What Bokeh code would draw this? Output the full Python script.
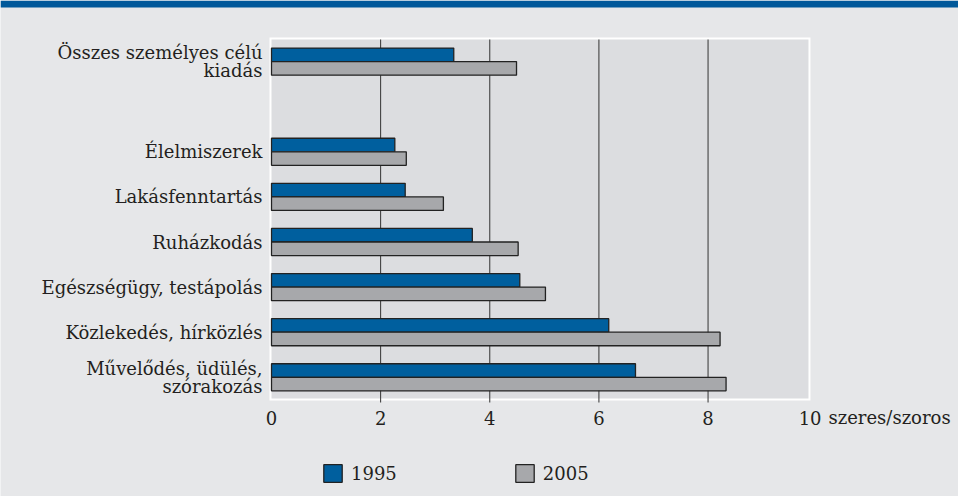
from bokeh.plotting import figure
from bokeh.models import Range1d, Legend, LegendItem, ColumnDataSource, BoxAnnotation
from bokeh.core.properties import value
from bokeh.embed import file_html
from bokeh.resources import INLINE

categories = ["Összes személyes célú\nkiadás", "Élelmiszerek", "Lakásfenntartás", "Ruházkodás",
              "Egészségügy, testápolás", "Közlekedés, hírközlés", "Művelődés, üdülés,\nszórakozás"]
values_1995 = [3.34, 2.26, 2.45, 3.68, 4.55, 6.18, 6.67]
values_2005 = [4.49, 2.47, 3.15, 4.52, 5.02, 8.22, 8.33]
series_names = ["1995", "2005"]
x_tick_values = [0, 2, 4, 6, 8]
x_tick_labels = ["0", "2", "4", "6", "8"]
x_last_tick = "10"
x_unit = "szeres/szoros"
grid_values = [2, 4, 6, 8]

# slot positions (bottom = 0); one empty slot between the total and the items
slots = [7, 5, 4, 3, 2, 1, 0]

FONT = "DejaVu Serif"
FS = "18px"
TXT = "#231f20"
PAGE_BG = "#e6e7e9"
PLOT_BG = "#dcdde0"
STRIPE = "#00589a"
BLUE = "#005f9e"
GRAY = "#a7a8ab"
EDGE = "#222222"
BAR_H = 0.3

W, H = 958, 496
X0_PX = 271            # pixel column of value 0
PXX = 54.57            # px per x unit
PXY = 45.1             # px per y unit
Y_LO, Y_HI = -0.47, 7.49   # shaded area, in slot units
X_END = 9.84
YLO_PX = 398           # pixel row of the shaded area's bottom


def px_x(d):           # pixel distance -> x units
    return d / PXX


def px_y(d):
    return d / PXY


x_start = -px_x(X0_PX)
x_end = px_x(W - X0_PX)
y_start = Y_LO - px_y(H - YLO_PX)
y_end = Y_LO + px_y(YLO_PX)

p = figure(width=W, height=H, x_range=Range1d(x_start, x_end), y_range=Range1d(y_start, y_end),
           output_backend="svg", toolbar_location=None, min_border=0,
           x_axis_location=None, y_axis_location=None)
p.background_fill_color = PAGE_BG
p.border_fill_color = PAGE_BG
p.outline_line_color = None
p.grid.grid_line_color = None

# top stripe
p.add_layout(BoxAnnotation(bottom=y_end - px_y(7), fill_color=STRIPE, fill_alpha=1,
                           line_color=None, level="image"))
# white frame + shaded area
p.add_layout(BoxAnnotation(left=-px_x(2), right=X_END + px_x(2), bottom=Y_LO - px_y(2),
                           top=Y_HI + px_y(2), fill_color="white", fill_alpha=1,
                           line_color=None, level="image"))
p.add_layout(BoxAnnotation(left=0, right=X_END, bottom=Y_LO, top=Y_HI, fill_color=PLOT_BG,
                           fill_alpha=1, line_color=None, level="image"))

# vertical grid lines
p.segment(x0=grid_values, x1=grid_values, y0=[Y_LO - px_y(4)] * len(grid_values),
          y1=[Y_HI] * len(grid_values), line_color="#333333", line_width=1)

src = ColumnDataSource(dict(
    y1=[s + BAR_H / 2 for s in slots],
    y2=[s - BAR_H / 2 for s in slots],
    v1995=values_1995,
    v2005=values_2005,
    cat=categories,
    slot=slots,
))

r1 = p.hbar(y="y1", right="v1995", left=0, height=BAR_H, source=src,
            fill_color=BLUE, line_color=EDGE, line_width=1.3)
r2 = p.hbar(y="y2", right="v2005", left=0, height=BAR_H, source=src,
            fill_color=GRAY, line_color=EDGE, line_width=1.3)

# category labels
p.text(x=-px_x(9), y="slot", text="cat", source=src, text_align="right",
       text_baseline="middle", text_font=value(FONT), text_font_size=value(FS),
       text_color=TXT, text_line_height=0.86)

# value axis labels (common alphabetic baseline)
tick_y = Y_LO - px_y(19)
p.text(x=x_tick_values + [X_END + 0.03], y=[tick_y] * (len(x_tick_values) + 1),
       text=x_tick_labels + [x_last_tick], text_align="center", text_baseline="alphabetic",
       text_font=value(FONT), text_font_size=value(FS), text_color=TXT)
p.text(x=[X_END + px_x(20)], y=[tick_y], text=[x_unit], text_align="left",
       text_baseline="alphabetic", text_font=value(FONT), text_font_size=value(FS),
       text_color=TXT)

legend = Legend(items=[LegendItem(label=series_names[0], renderers=[r1]),
                       LegendItem(label=series_names[1], renderers=[r2])],
                orientation="horizontal", location=(321, 12),
                glyph_width=23, glyph_height=22, label_standoff=7, spacing=116,
                padding=0, margin=0, border_line_color=None, background_fill_alpha=0,
                label_text_font=FONT, label_text_font_size=FS, label_text_color=TXT)
p.add_layout(legend, "center")

open("out.html", "w").write(file_html(p, INLINE))
